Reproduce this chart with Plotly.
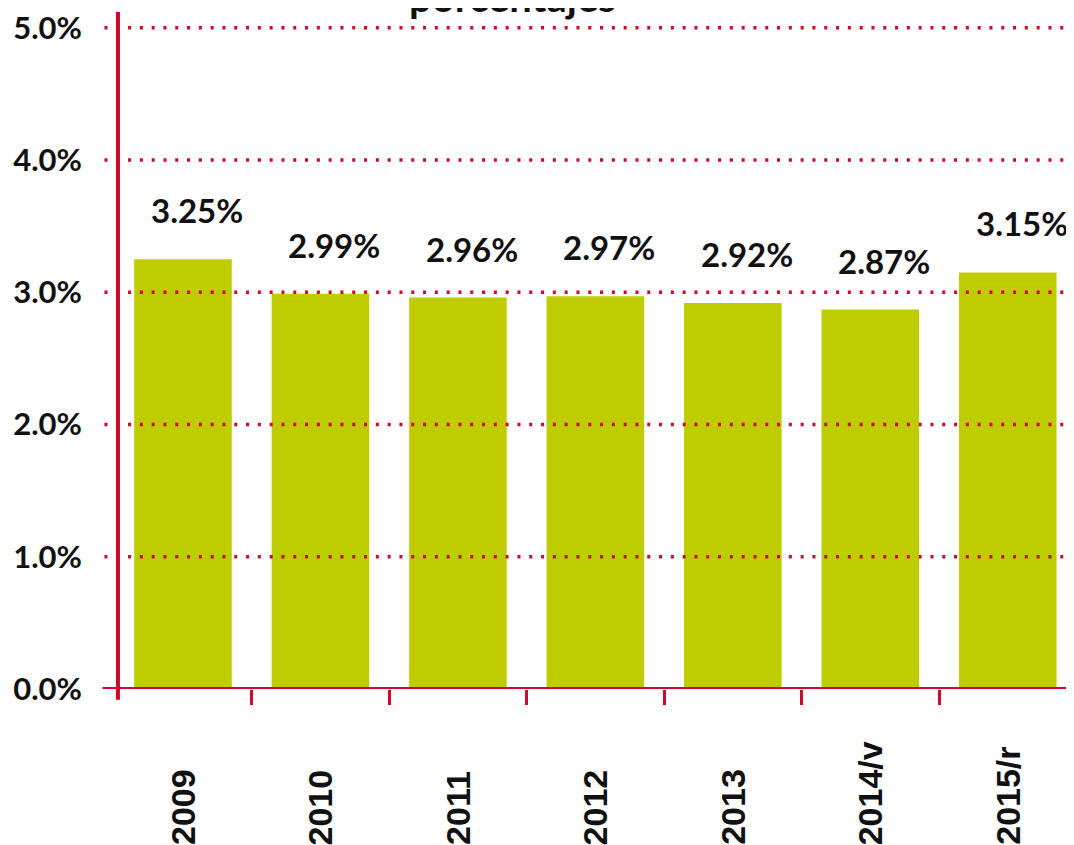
import plotly.graph_objects as go

categories = ["2009", "2010", "2011", "2012", "2013", "2014/v", "2015/r"]
values = [3.25, 2.99, 2.96, 2.97, 2.92, 2.87, 3.15]
y_ticks = [0, 1, 2, 3, 4, 5]
y_tick_labels = ["0.0%", "1.0%", "2.0%", "3.0%", "4.0%", "5.0%"]
title_text = "porcentajes"

RED = "#D0062A"
BAR = "#BFCC00"
LABEL_FONT = "Lato"
TICK_FONT = "Liberation Sans"

fig = go.Figure()
fig.add_trace(go.Bar(x=list(range(len(categories))), y=values,
                     marker=dict(color=BAR, line=dict(width=0)), hoverinfo="skip"))

# value labels
for i, v in enumerate(values):
    fig.add_annotation(x=i, y=v, text=f"{v:.2f}%", showarrow=False, yanchor="bottom",
                       xshift=14, yshift=27,
                       font=dict(family=LABEL_FONT, size=33, color="#111111", weight="bold"))

# rotated category labels
for i, c in enumerate(categories):
    fig.add_annotation(x=i, xref="x", y=-0.2334, yref="paper", text=c, showarrow=False,
                       textangle=-90, yanchor="bottom", xanchor="center",
                       font=dict(family=TICK_FONT, size=34, color="#111111", weight="bold"))

# partly visible title
fig.add_annotation(x=0.41, xref="paper", y=1.0, yref="paper", text=title_text,
                   showarrow=False, yanchor="bottom", yshift=-11,
                   font=dict(family=LABEL_FONT, size=40, color="#111111", weight="bold"))

shapes = []
for t in y_ticks[1:]:
    shapes.append(dict(type="line", xref="paper", yref="y", x0=-0.013, x1=1, y0=t, y1=t,
                       line=dict(color=RED, width=3.5, dash="3px,8.8px"), layer="above"))
# axis lines
shapes.append(dict(type="line", xref="paper", yref="y", x0=-0.015, x1=1, y0=0, y1=0,
                   line=dict(color=RED, width=4), layer="above"))
shapes.append(dict(type="line", xref="paper", yref="paper", x0=0.001, x1=0.001, y0=-0.016, y1=1,
                   line=dict(color=RED, width=4), layer="above"))

fig.update_layout(
    width=1074, height=845,
    margin=dict(l=109, r=0, t=4, b=164),
    paper_bgcolor="white", plot_bgcolor="white",
    bargap=0.29,
    showlegend=False,
    shapes=shapes,
    xaxis=dict(range=[-0.48, 6.54], showticklabels=False, showgrid=False,
               showline=False, zeroline=False, ticks="outside",
               tickvals=[i - 0.5 for i in range(len(categories))],
               ticklen=15, tickwidth=3, tickcolor=RED),
    yaxis=dict(range=[0, 5.12], tickvals=y_ticks, ticktext=y_tick_labels,
               showgrid=False, zeroline=False, showline=False, ticks="",
               ticklabelstandoff=34, ticklabeloverflow="allow",
               tickfont=dict(family=LABEL_FONT, size=31, color="#111111", weight="bold")),
)

fig.write_html("out.html")
